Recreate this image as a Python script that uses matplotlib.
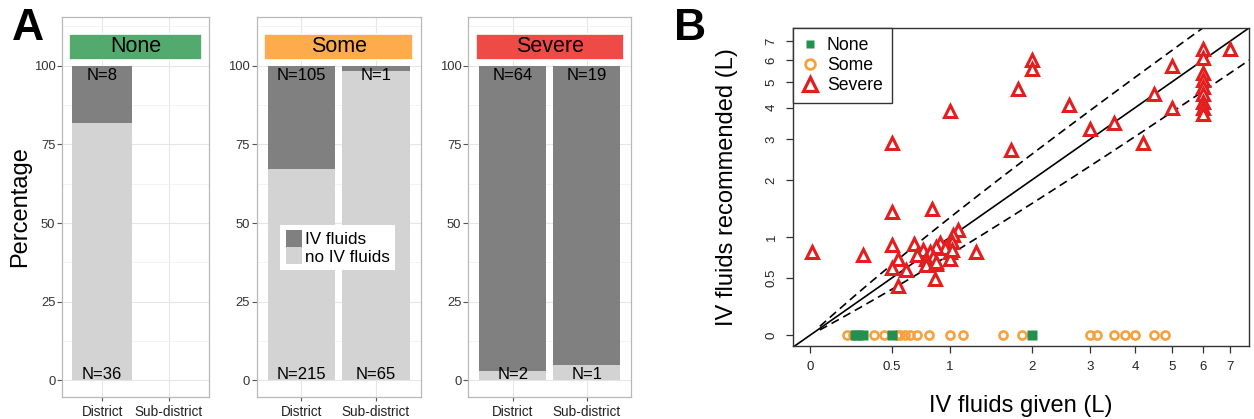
import numpy as np
import matplotlib
matplotlib.use('Agg')
import matplotlib.pyplot as plt
from matplotlib.patches import Rectangle, Patch
from matplotlib.lines import Line2D

plt.rcParams['font.family'] = ['Liberation Sans', 'DejaVu Sans']

# ---- panel A: number of children with / without IV fluids ----
groups = ['None', 'Some', 'Severe']
sites = ['District', 'Sub-district']
n_iv = [[8, 0], [105, 1], [64, 19]]
n_no_iv = [[36, 0], [215, 65], [2, 1]]
strip_colors = ['#52AA6F', '#FDAB4C', '#EF4B46']

# ---- panel B: IV fluids given vs recommended (L) ----
severe_given = [2.0, 2.0, 1.8, 1.0, 0.5, 1.7, 2.6, 3.0, 3.5, 4.2, 4.5, 5.0, 5.0,
                6.0, 6.0, 6.0, 6.0, 6.0, 6.0, 6.0, 6.0, 6.0, 7.0,
                0.5, 0.83, 0.01, 0.3, 0.5, 0.67, 1.27, 1.08, 1.03, 1.02,
                1.0, 1.0, 0.9, 0.95, 0.87, 0.75, 0.81, 0.84, 0.78, 0.78,
                0.87, 0.86, 0.7, 0.55, 0.5, 0.61, 0.55, 0.87, 1.02]
severe_rec = [6.0, 5.6, 4.7, 3.9, 2.9, 2.7, 4.1, 3.3, 3.5, 2.9, 4.5, 5.7, 4.0,
              6.6, 6.1, 5.4, 5.1, 4.8, 4.5, 4.2, 4.0, 3.8, 6.6,
              1.4, 1.45, 0.8, 0.76, 0.89, 0.91, 0.8, 1.1, 1.03, 0.94,
              0.8, 0.72, 0.92, 0.85, 0.87, 0.83, 0.8, 0.74, 0.72, 0.64,
              0.66, 0.49, 0.76, 0.72, 0.61, 0.59, 0.42, 0.68, 0.83]
some_given = [0.2, 0.24, 0.37, 0.44, 0.54, 0.56, 0.6, 0.64, 0.7, 0.8, 1.0,
              1.13, 1.6, 1.86, 3.0, 3.15, 3.5, 3.75, 4.0, 4.5, 4.8]
some_rec = [0] * len(some_given)
none_given = [0.25, 0.27, 0.3, 0.5, 2.0]
none_rec = [0] * len(none_given)
b_ticks = [0, 0.5, 1, 2, 3, 4, 5, 6, 7]
b_ticklabels = ['0', '0.5', '1', '2', '3', '4', '5', '6', '7']
ratio = 1.3  # dashed guide lines: y = 1.3x and y = x/1.3

dark = '#808080'
light = '#D3D3D3'


def panel_a(fig):
    boxes = [[0.0497, 0.0525, 0.1167, 0.9062],
             [0.2047, 0.0525, 0.1308, 0.9062],
             [0.3734, 0.0525, 0.1300, 0.9062]]
    xpos = np.arange(1, len(sites) + 1)
    axes = []
    for g, box in enumerate(boxes):
        ax = fig.add_axes(box)
        iv = np.array(n_iv[g], dtype=float)
        no = np.array(n_no_iv[g], dtype=float)
        tot = iv + no
        ok = tot > 0
        pct_no = np.where(ok, 100 * no / np.where(ok, tot, 1), 0)
        pct_iv = np.where(ok, 100 - pct_no, 0)
        ax.bar(xpos[ok], pct_no[ok], width=0.9, color=light, zorder=2)
        ax.bar(xpos[ok], pct_iv[ok], bottom=pct_no[ok], width=0.9, color=dark, zorder=2)
        for i in range(len(sites)):
            if not ok[i]:
                continue
            ax.text(xpos[i], 96.8, 'N=%d' % iv[i], ha='center', va='center', fontsize=12, zorder=3)
            ax.text(xpos[i], 2.0, 'N=%d' % no[i], ha='center', va='center', fontsize=12, zorder=3)

        # coloured header strip
        ax.add_patch(Rectangle((0.5, 101.8), 2.0, 8.4, facecolor=strip_colors[g],
                               edgecolor='white', lw=1.2, zorder=3))
        ax.text(1.5, 106.0, groups[g], ha='center', va='center', fontsize=15.5, zorder=4)

        ax.set_xlim(0.4, 2.6)
        ax.set_ylim(-5.3, 115.4)
        ax.set_xticks(xpos)
        ax.set_xticklabels(sites, fontsize=9.8, color='#222222')
        ax.set_yticks([0, 25, 50, 75, 100])
        ax.set_yticks([12.5, 37.5, 62.5, 87.5, 112.5], minor=True)
        ax.tick_params(axis='y', labelsize=9.4, labelcolor='#333333', length=3.5, pad=1.5,
                       color='#555555', width=0.8)
        ax.tick_params(axis='x', length=3, pad=3, color='#555555', width=0.8)
        ax.tick_params(which='minor', length=0)
        ax.grid(which='major', color='#E6E6E6', lw=0.8, zorder=0)
        ax.grid(which='minor', axis='y', color='#EFEFEF', lw=0.5, zorder=0)
        ax.set_axisbelow(True)
        for s in ax.spines.values():
            s.set_color('#B8B8B8')
            s.set_linewidth(0.9)
        axes.append(ax)

    handles = [Patch(facecolor=dark, edgecolor='none'), Patch(facecolor=light, edgecolor='none')]
    leg = axes[1].legend(handles, ['IV fluids', 'no IV fluids'], loc='lower left',
                         bbox_to_anchor=(0.145, 0.335), fontsize=12.3, frameon=True,
                         fancybox=False, edgecolor='none', facecolor='white', framealpha=1,
                         handlelength=0.97, handleheight=1.15, handletextpad=0.16,
                         labelspacing=0.0, borderpad=0.3, borderaxespad=0)
    leg.set_zorder(5)

    fig.text(0.0163, 0.5067, 'Percentage', rotation=90, ha='center', va='center', fontsize=17)
    fig.text(0.0219, 0.931, 'A', ha='center', va='center', fontsize=32, fontweight='bold')


def panel_b(fig):
    ax = fig.add_axes([0.6324, 0.1742, 0.3636, 0.7597])
    ax.set_xscale('function', functions=(np.log1p, np.expm1))
    ax.set_yscale('function', functions=(np.log1p, np.expm1))
    ax.set_xlim(np.expm1(-0.084), np.expm1(2.174))
    ax.set_ylim(np.expm1(-0.076), np.expm1(2.176))

    # identity line and +/- 30% guides
    ax.plot([-0.5, 10], [-0.5, 10], color='black', lw=1.2, zorder=2)
    xg = np.expm1(np.linspace(np.log1p(0.05), 2.3, 200))
    ax.plot(xg, xg * ratio, color='black', lw=1.2, ls=(0, (5, 3)), zorder=2)
    ax.plot(xg, xg / ratio, color='black', lw=1.2, ls=(0, (5, 3)), zorder=2)

    ax.plot(some_given, some_rec, 'o', ms=5.8, mfc='none', mec='#F7A13C', mew=1.9, zorder=3)
    ax.plot(none_given, none_rec, 's', ms=7, color='#23904F', mec='none', zorder=4)
    ax.plot(severe_given, severe_rec, '^', ms=8.5, mfc='white', mec='#E41E1E', mew=2.2, zorder=5)

    ax.set_xticks(b_ticks)
    ax.set_xticklabels(b_ticklabels)
    ax.set_yticks(b_ticks)
    ax.set_yticklabels(b_ticklabels, rotation=90, va='center')
    ax.tick_params(labelsize=9.5, labelcolor='#222222', length=5, width=0.9,
                   color='#333333', pad=6)
    ax.minorticks_off()
    for s in ax.spines.values():
        s.set_color('#333333')
        s.set_linewidth(1.0)

    ax.text(0.5, -0.19, 'IV fluids given (L)', transform=ax.transAxes,
            ha='center', va='center', fontsize=17)
    ax.text(-0.145, 0.5, 'IV fluids recommended (L)', transform=ax.transAxes,
            ha='center', va='center', rotation=90, fontsize=17)

    handles = [Line2D([], [], ls='none', marker='s', ms=6, color='#23904F', mec='none'),
               Line2D([], [], ls='none', marker='o', ms=7, mfc='none', mec='#F7A13C', mew=2),
               Line2D([], [], ls='none', marker='^', ms=9.5, mfc='white', mec='#E41E1E', mew=2.3)]
    ax.legend(handles, ['None', 'Some', 'Severe'], loc='upper left', bbox_to_anchor=(0, 1),
              borderaxespad=0, fontsize=12.7, fancybox=False, edgecolor='#333333',
              framealpha=1, handlelength=0.85, handletextpad=0.52, labelspacing=0.15,
              borderpad=0.55)

    fig.text(0.5502, 0.931, 'B', ha='center', va='center', fontsize=32, fontweight='bold')


def main():
    fig = plt.figure(figsize=(12.54, 4.19), dpi=100)
    panel_a(fig)
    panel_b(fig)
    fig.savefig('out.png', dpi=100)


if __name__ == "__main__":
    main()
